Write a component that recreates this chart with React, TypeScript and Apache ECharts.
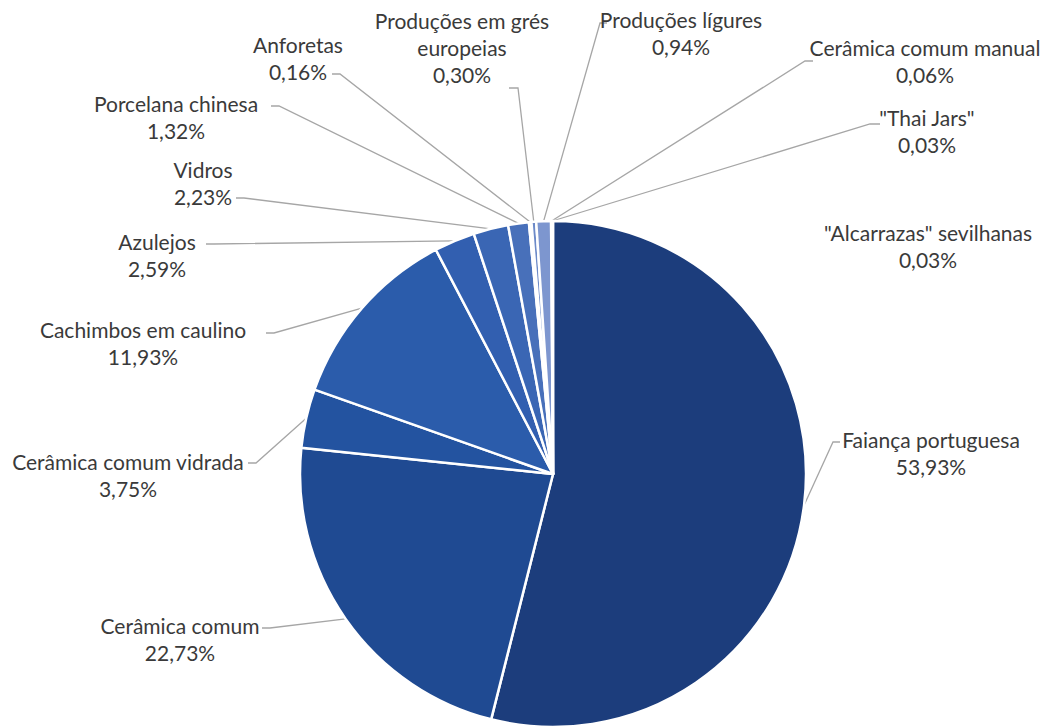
import React, { useEffect, useRef } from "react";
import * as echarts from "echarts";

const categories = [
  "Faiança portuguesa",
  "Cerâmica comum",
  "Cerâmica comum vidrada",
  "Cachimbos em caulino",
  "Azulejos",
  "Vidros",
  "Porcelana chinesa",
  "Anforetas",
  "Produções em grés europeias",
  "Produções lígures",
  "Cerâmica comum manual",
  "\"Thai Jars\"",
  "\"Alcarrazas\" sevilhanas",
];

const values = [53.93, 22.73, 3.75, 11.93, 2.59, 2.23, 1.32, 0.16, 0.3, 0.94, 0.06, 0.03, 0.03];

const colors = [
  "#1c3d7c",
  "#1f4a92",
  "#2353a0",
  "#2b5cab",
  "#325fb0",
  "#3a66b4",
  "#4870ba",
  "#5b7fc2",
  "#6c8ac8",
  "#7d96cf",
  "#a4b6de",
  "#c3d0ec",
  "#dfe6f5",
];

// label layout: text centre (x, y), leader attach point (ax, ay), bend x (bx)
const labelPlaces = [
  { x: 931, y: 453, ax: 840, ay: 442, bx: 833 },
  { x: 180, y: 639, ax: 262, ay: 628, bx: 270 },
  { x: 128, y: 475, ax: 248, ay: 463, bx: 256 },
  { x: 143, y: 343, ax: 266, ay: 333, bx: 274 },
  { x: 157, y: 255, ax: 206, ay: 244, bx: 214 },
  { x: 203, y: 183, ax: 236, ay: 198, bx: 244 },
  { x: 176, y: 117, ax: 271, ay: 106, bx: 279 },
  { x: 298, y: 58, ax: 332, ay: 74, bx: 340 },
  { x: 462, y: 47, ax: 509, ay: 88, bx: 518 },
  { x: 681, y: 33, ax: 607, ay: 23, bx: 600 },
  { x: 925, y: 61, ax: 813, ay: 61, bx: 805 },
  { x: 927, y: 131, ax: 880, ay: 124, bx: 870 },
  { x: 928, y: 246, ax: 0, ay: 0, bx: 0 },
];

const noLine = [12];

function labelName(name: string): string {
  if (name === "Produções em grés europeias") return "Produções em grés\neuropeias";
  return name;
}

export default function App() {
  const ref = useRef<HTMLDivElement>(null);
  useEffect(() => {
    if (!ref.current) return;
    const chart = echarts.init(ref.current, undefined, { renderer: "svg" });
    const data = categories.map((name, i) => ({
      name,
      value: values[i],
      itemStyle: { color: colors[i] },
      labelLine: { show: noLine.indexOf(i) < 0 },
    }));
    chart.setOption({
      animation: false,
      backgroundColor: "#ffffff",
      series: [
        {
          type: "pie",
          center: [553, 474],
          radius: 253,
          startAngle: 90,
          clockwise: true,
          avoidLabelOverlap: false,
          minShowLabelAngle: 0,
          data,
          itemStyle: { borderColor: "#ffffff", borderWidth: 2.5 },
          label: {
            show: true,
            position: "outside",
            formatter: (p: any) =>
              labelName(p.name) + "\n" + Number(p.value).toFixed(2).replace(".", ",") + "%",
            fontFamily: "Lato",
            fontSize: 21,
            lineHeight: 27,
            color: "#3a3a3a",
            align: "center",
          },
          labelLine: {
            show: true,
            length: 10,
            length2: 10,
            lineStyle: { color: "#a6a6a6", width: 1.3 },
          },
          labelLayout: (params: any) => {
            const L = labelPlaces[params.dataIndex];
            const res: any = { x: L.x, y: L.y, align: "center", verticalAlign: "middle" };
            const pts = params.labelLinePoints;
            if (pts && pts.length && noLine.indexOf(params.dataIndex) < 0) {
              res.labelLinePoints = [pts[0], [L.bx, L.ay], [L.ax, L.ay]];
            }
            return res;
          },
        },
      ],
    });
    return () => chart.dispose();
  }, []);
  return (
    <div
      ref={ref}
      style={{ position: "fixed", left: 0, top: 0, width: 1051, height: 727, background: "#fff" }}
    />
  );
}
